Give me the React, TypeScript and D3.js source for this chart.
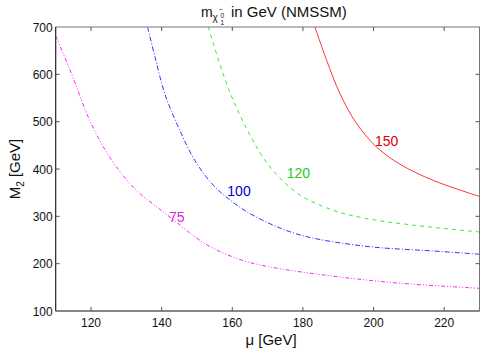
import React from 'react';
import * as d3 from 'd3';

// contour values (mu in GeV, M2 in GeV)
const mu75 = [110, 114.5, 119.2, 124, 128.7, 133.4, 138.1, 142.8, 152.3, 161.7, 170, 188.1, 207, 230];
const m75 = [681, 601, 510, 440, 390, 351, 323, 296, 242, 210, 194, 174, 159, 148];

const mu100 = [136, 138.1, 140.9, 144.7, 149.4, 154.6, 159.8, 166.4, 178.6, 197.5, 216.4, 230];
const m100 = [700, 637, 559, 489, 418, 366, 332, 300, 262, 237, 227, 220];

const mu120 = [153.2, 158.9, 164.5, 170.4, 178.6, 188.1, 197.5, 211.7, 230];
const m120 = [700, 570, 479, 407, 348, 314, 296, 281, 267];

const mu150 = [183.4, 186.7, 190.5, 195.2, 200.9, 207.5, 216.9, 230];
const m150 = [700, 630, 559, 496, 446, 410, 376, 342];

const xTicks = [120, 140, 160, 180, 200, 220];
const yTicks = [100, 200, 300, 400, 500, 600, 700];

const W = 482;
const H = 349;
const margin = {left: 55.7, right: 2.5, top: 27, bottom: 38};

export default function App() {
    const x = d3.scaleLinear().domain([110, 230]).range([margin.left, W - margin.right]);
    const y = d3.scaleLinear().domain([100, 700]).range([H - margin.bottom, margin.top]);

    const line = d3.line<[number, number]>()
        .x(d => x(d[0]))
        .y(d => y(d[1]))
        .curve(d3.curveCatmullRom.alpha(0.5));

    const curves = [
        {mu: mu75, m: m75, color: '#ff22ff', dash: '4,2,1,2,1,2'},
        {mu: mu100, m: m100, color: '#3333ff', dash: '5,2,1,2'},
        {mu: mu120, m: m120, color: '#33ee33', dash: '4,4'},
        {mu: mu150, m: m150, color: '#ff3333', dash: null},
    ];

    const labels = [
        {text: '75', mu: 142.1, m2: 289, color: '#dd22dd'},
        {text: '100', mu: 158.6, m2: 343, color: '#0000cc'},
        {text: '120', mu: 175.4, m2: 380, color: '#22cc22'},
        {text: '150', mu: 200.4, m2: 449, color: '#dd0000'},
    ];

    const x0 = x(110), x1 = x(230), y0 = y(100), y1 = y(700);
    const font = 'Liberation Sans, Arial, Helvetica, sans-serif';

    return (
        <svg width={W} height={H} style={{position: 'absolute', left: 0, top: 0}} fontFamily={font}>
            <defs>
                <clipPath id="plot">
                    <rect x={x0} y={y1} width={x1 - x0} height={y0 - y1} />
                </clipPath>
            </defs>
            <rect width={W} height={H} fill="white" />

            <g clipPath="url(#plot)">
                {curves.map((c, i) => (
                    <path key={i}
                        d={line(c.mu.map((v, j) => [v, c.m[j]] as [number, number])) || ''}
                        fill="none" stroke={c.color} strokeWidth={1}
                        strokeDasharray={c.dash || undefined} />
                ))}
            </g>

            {labels.map((l, i) => (
                <text key={i} x={x(l.mu)} y={y(l.m2)} fontSize={14} fill={l.color}>{l.text}</text>
            ))}

            {/* frame */}
            <rect x={x0} y={y1} width={x1 - x0} height={y0 - y1} fill="none" stroke="#777" strokeWidth={1} />
            <line x1={x0} x2={x0} y1={y1} y2={y0} stroke="#222" strokeWidth={1} />
            <line x1={x0} x2={x1} y1={y0} y2={y0} stroke="#555" strokeWidth={1} />

            {xTicks.map(t => (
                <g key={t}>
                    <line x1={x(t)} x2={x(t)} y1={y0} y2={y0 - 4} stroke="#555" />
                    <line x1={x(t)} x2={x(t)} y1={y1} y2={y1 + 4} stroke="#555" />
                    <text x={x(t)} y={y0 + 16} fontSize={12} textAnchor="middle" fill="#111">{t}</text>
                </g>
            ))}
            {yTicks.map(t => (
                <g key={t}>
                    {t > 100 && t < 700 && <line x1={x0} x2={x0 + 4} y1={y(t)} y2={y(t)} stroke="#555" />}
                    {t > 100 && t < 700 && <line x1={x1} x2={x1 - 4} y1={y(t)} y2={y(t)} stroke="#555" />}
                    <text x={x0 - 3} y={y(t) + 4.5} fontSize={12} textAnchor="end" fill="#111">{t}</text>
                </g>
            ))}

            {/* axis titles */}
            <text x={271} y={345} fontSize={15} textAnchor="middle" fill="#111">μ  [GeV]</text>
            <text transform={`translate(20,${(y0 + y1) / 2}) rotate(-90)`} fontSize={15} textAnchor="middle" fill="#111">
                M<tspan fontSize={10} dy={4}>2</tspan><tspan dy={-4}> [GeV]</tspan>
            </text>

            <text x={201} y={17} fontSize={14} fill="#111">m</text>
            <text x={212.5} y={21} fontSize={10} fill="#111">χ</text>
            <text x={219} y={12} fontSize={6.5} fill="#111">~</text>
            <text x={220.5} y={17.5} fontSize={6.5} fill="#111">0</text>
            <text x={220.5} y={24.5} fontSize={6.5} fill="#111">1</text>
            <text x={231} y={17} fontSize={15} fill="#111">in GeV (NMSSM)</text>
        </svg>
    );
}
